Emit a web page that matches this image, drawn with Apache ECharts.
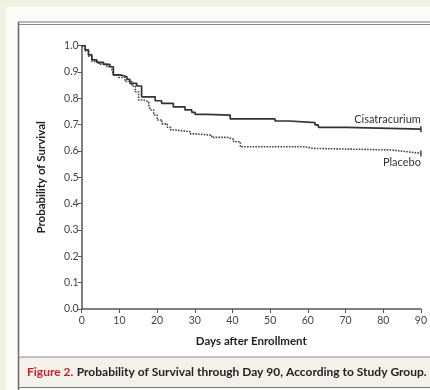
<!DOCTYPE html>
<html><head><meta charset="utf-8">
<script src="https://cdn.jsdelivr.net/npm/echarts@6/dist/echarts.min.js"></script>
<style>html,body{margin:0;padding:0;background:#eef3e4;}#c{width:430px;height:390px;}</style>
</head><body><div id="c"></div>
<script>
const xTicks = [0,10,20,30,40,50,60,70,80,90];
const yTicks = [0.0,0.1,0.2,0.3,0.4,0.5,0.6,0.7,0.8,0.9,1.0];
const cisDays = [0, 0.9, 1.8, 2.7, 4, 5.8, 7.5, 8.4, 10.2, 12, 12.8, 14.6, 15.9, 19.5, 21.2, 24.3, 27.4, 29.2, 30.1, 33.2, 39.4, 51.3, 55.2, 61.9, 62.8, 70.3, 90];
const cisSurv = [1.0, 0.984, 0.965, 0.946, 0.937, 0.929, 0.92, 0.889, 0.882, 0.872, 0.857, 0.847, 0.806, 0.791, 0.781, 0.768, 0.756, 0.747, 0.739, 0.736, 0.722, 0.714, 0.708, 0.699, 0.69, 0.683, 0.683];
const placDays = [0, 0.9, 1.8, 2.7, 4.5, 6.7, 8, 8.4, 9.8, 11.5, 13.3, 14.2, 15.1, 16.4, 17.8, 18.2, 19.1, 20, 21.3, 22.7, 23.6, 24.9, 28.8, 30.5, 34.5, 38.5, 40.3, 42.1, 59.2, 61.4, 82.2, 86.6, 90];
const placSurv = [1.0, 0.98, 0.96, 0.94, 0.93, 0.92, 0.91, 0.889, 0.879, 0.864, 0.847, 0.825, 0.794, 0.787, 0.775, 0.756, 0.737, 0.718, 0.703, 0.69, 0.68, 0.673, 0.665, 0.66, 0.652, 0.645, 0.635, 0.616, 0.61, 0.604, 0.597, 0.591, 0.591];
const seriesNames = ['Cisatracurium', 'Placebo'];
const xName = 'Days after Enrollment';
const yName = 'Probability of Survival';
const captionLead = 'Figure 2.';
const captionText = 'Probability of Survival through Day 90, According to Study Group.';

function pts(d, v) {
  return d.map((x, i) => {
    const item = { value: [x, v[i]] };
    if (i === d.length - 1) { item.symbol = 'rect'; item.symbolSize = [1.5, 6]; }
    else { item.symbol = 'none'; }
    return item;
  });
}
const chart = echarts.init(document.getElementById('c'), null, { renderer: 'canvas' });
const font = 'Lato, "Noto Sans", sans-serif';
const opt = {
  animation: false,
  backgroundColor: '#eef3e4',
  grid: { left: 81.7, right: 9, top: 45.7, bottom: 81, containLabel: false },
  xAxis: {
    type: 'value', min: 0, max: 90, interval: 10,
    name: xName, nameLocation: 'middle', nameGap: 26,
    nameTextStyle: { fontFamily: font, fontWeight: 'bold', fontSize: 11.5, color: '#222' },
    axisLine: { lineStyle: { color: '#555', width: 1.5 } },
    axisTick: { length: 4, lineStyle: { color: '#555', width: 1 } },
    axisLabel: { fontFamily: font, fontSize: 10.5, color: '#444', margin: 6 },
    splitLine: { show: false }
  },
  yAxis: {
    type: 'value', min: 0, max: 1, interval: 0.1,
    name: yName, nameLocation: 'middle', nameGap: 34, nameRotate: 90,
    nameTextStyle: { fontFamily: font, fontWeight: 'bold', fontSize: 11.5, color: '#222' },
    axisLine: { show: true, lineStyle: { color: '#555', width: 1.5 } },
    axisTick: { show: true, length: 4, lineStyle: { color: '#555', width: 1 } },
    axisLabel: { fontFamily: font, fontSize: 10.5, color: '#444', margin: 3, formatter: v => v.toFixed(1) },
    splitLine: { show: false }
  },
  series: [
    { name: seriesNames[0], type: 'line', step: 'end', showSymbol: true,
      data: pts(cisDays, cisSurv), lineStyle: { color: '#333', width: 1.7 }, itemStyle: { color: '#333' }, z: 3 },
    { name: seriesNames[1], type: 'line', step: 'end', showSymbol: true,
      data: pts(placDays, placSurv), lineStyle: { color: '#444', width: 1.6, type: [1.6, 1.2] }, itemStyle: { color: '#444' }, z: 2 }
  ],
  graphic: [
    { type: 'rect', shape: { x: 6, y: 7, width: 430, height: 390 }, style: { fill: '#fbfcf8' }, z: -10, silent: true },
    { type: 'rect', shape: { x: 18, y: 22, width: 420, height: 335 }, style: { fill: '#ffffff' }, z: -9, silent: true },
    { type: 'rect', shape: { x: 18, y: 357, width: 420, height: 30 }, style: { fill: '#f4f1ea' }, z: -9, silent: true },
    { type: 'line', shape: { x1: 18, y1: 22, x2: 430, y2: 22 }, style: { stroke: '#777', lineWidth: 1 }, z: -8 },
    { type: 'line', shape: { x1: 18, y1: 24.5, x2: 430, y2: 24.5 }, style: { stroke: '#888', lineWidth: 1 }, z: -8 },
    { type: 'line', shape: { x1: 18.5, y1: 22, x2: 18.5, y2: 390 }, style: { stroke: '#666', lineWidth: 1.5 }, z: -8 },
    { type: 'line', shape: { x1: 18, y1: 357, x2: 430, y2: 357 }, style: { stroke: '#888', lineWidth: 1 }, z: -8 },
    { type: 'line', shape: { x1: 18, y1: 387.5, x2: 430, y2: 387.5 }, style: { stroke: '#777', lineWidth: 1 }, z: -8 },
    { type: 'text', left: 27, top: 366, style: {
        text: '{r|' + captionLead + '} {k|' + captionText + '}',
        rich: {
          r: { fill: '#c8202f', fontFamily: font, fontWeight: 'bold', fontSize: 12 },
          k: { fill: '#222', fontFamily: font, fontWeight: 'bold', fontSize: 12 }
        } } }
  ]
};
chart.setOption(opt);
const pC = chart.convertToPixel({ gridIndex: 0 }, [90, cisSurv[cisSurv.length - 1]]);
const pP = chart.convertToPixel({ gridIndex: 0 }, [90, placSurv[placSurv.length - 1]]);
chart.setOption({ graphic: opt.graphic.concat([
  { type: 'text', x: pC[0], y: pC[1] - 4, style: { text: seriesNames[0], fill: '#333', font: '11px ' + font, align: 'right', verticalAlign: 'bottom' } },
  { type: 'text', x: pP[0], y: pP[1] + 4, style: { text: seriesNames[1], fill: '#333', font: '11px ' + font, align: 'right', verticalAlign: 'top' } }
]) });
</script></body></html>
